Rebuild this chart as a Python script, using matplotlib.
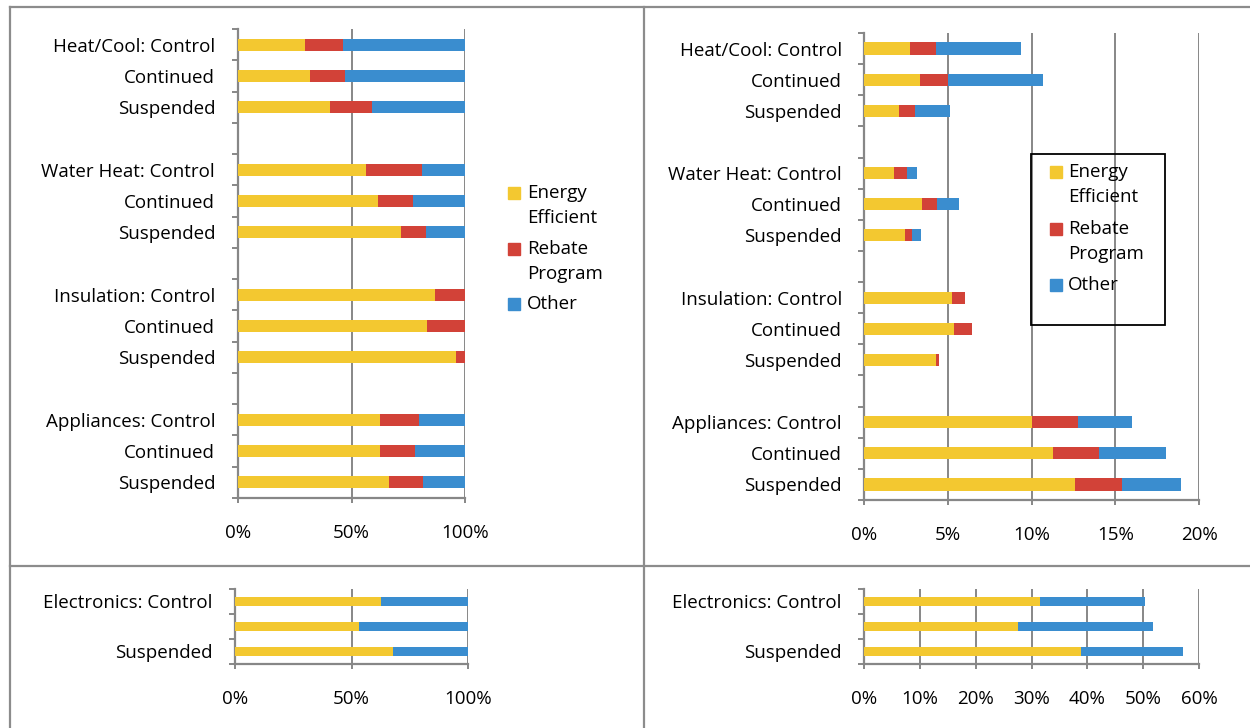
import numpy as np
import matplotlib
matplotlib.use("Agg")
import matplotlib.pyplot as plt
from matplotlib.patches import Rectangle
from matplotlib.lines import Line2D
from matplotlib.ticker import FuncFormatter, FixedLocator

# ---- data (share of households, %) ----
groups = ["Heat/Cool", "Water Heat", "Insulation", "Appliances"]
conditions = ["Control", "Continued", "Suspended"]

energy_eff = [2.75, 3.37, 2.09, 1.79, 3.49, 2.46, 5.24, 5.36, 4.28, 10.00, 11.27, 12.57]
rebate_prog = [1.57, 1.67, 0.96, 0.78, 0.87, 0.38, 0.79, 1.07, 0.18, 2.77, 2.77, 2.84]
other = [5.04, 5.65, 2.11, 0.60, 1.30, 0.59, 0.00, 0.00, 0.00, 3.24, 3.96, 3.49]

elec_labels = ["Electronics: Control", "", "Suspended"]
elec_energy = [31.5, 27.6, 38.8]
elec_other = [18.8, 24.2, 18.4]

series_names = ["Energy\nEfficient", "Rebate\nProgram", "Other"]
colors = ["#F3C830", "#D24238", "#3A8DCF"]

FONT = ["Open Sans", "DejaVu Sans"]
plt.rcParams["font.family"] = FONT
FS = 13.5

W, H = 1250, 728
fig = plt.figure(figsize=(W / 100, H / 100), dpi=100)
fig.patch.set_facecolor("white")
GRID = "#878787"
PX = 72 / 100  # points per pixel


def rect(x0, y0, x1, y1):
    return [x0 / W, 1 - y1 / H, (x1 - x0) / W, (y1 - y0) / H]


def build_slots():
    """Category labels top-to-bottom, with empty slots between groups."""
    labels, idx = [], []
    k = 0
    for g_i, g in enumerate(groups):
        for c_i, c in enumerate(conditions):
            labels.append(f"{g}: {c}" if c_i == 0 else c)
            idx.append(k)
            k += 1
        if g_i < len(groups) - 1:
            labels.append("")
            k += 1
    return labels, idx


def style_axis(ax, n_slots, labels, xticks, xfmt, ypad, fs=FS):
    ax.set_ylim(n_slots - 0.5, -0.5)
    ax.set_yticks(np.arange(n_slots))
    ax.set_yticklabels(labels, fontsize=fs)
    ax.tick_params(axis="y", which="major", length=0, pad=ypad)
    ax.yaxis.set_minor_locator(FixedLocator(np.arange(n_slots + 1) - 0.5))
    ax.tick_params(axis="y", which="minor", length=6 * PX, width=1.4, color=GRID)
    ax.set_xticks(xticks)
    ax.xaxis.set_major_formatter(FuncFormatter(xfmt))
    ax.tick_params(axis="x", length=5 * PX, width=1.4, color=GRID, pad=15, labelsize=fs)
    ax.set_xlim(xticks[0], xticks[-1])
    ax.grid(axis="x", color=GRID, linewidth=1.4)
    ax.set_axisbelow(True)
    for s in ("top", "right"):
        ax.spines[s].set_visible(False)
    for s in ("left", "bottom"):
        ax.spines[s].set_color(GRID)
        ax.spines[s].set_linewidth(1.6)


def stacked(ax, ypos, parts, h):
    left = np.zeros(len(ypos))
    for vals, col in zip(parts, colors):
        vals = np.asarray(vals, dtype=float)
        ax.barh(ypos, vals, left=left, height=h, color=col, edgecolor="none", zorder=3)
        left += vals


slot_labels, slot_idx = build_slots()
n = len(slot_labels)
parts = [np.array(energy_eff), np.array(rebate_prog), np.array(other)]
totals = parts[0] + parts[1] + parts[2]

# ---- top left: 100% stacked ----
ax1 = fig.add_axes(rect(238, 29, 465, 498))
stacked(ax1, slot_idx, [p / totals * 100 for p in parts], 0.39)
style_axis(ax1, n, slot_labels, [0, 50, 100], lambda v, _: f"{v:.0f}%", 16.5)

# ---- top right: absolute shares ----
ax2 = fig.add_axes(rect(864, 33, 1199, 500))
stacked(ax2, slot_idx, parts, 0.39)
style_axis(ax2, n, slot_labels, [0, 5, 10, 15, 20], lambda v, _: f"{v:.0f}%", 16)

# ---- bottom: electronics ----
e_parts = [np.array(elec_energy), np.zeros(3), np.array(elec_other)]
e_tot = e_parts[0] + e_parts[2]
ax3 = fig.add_axes(rect(235, 589, 468, 664))
stacked(ax3, np.arange(3), [p / e_tot * 100 for p in e_parts], 0.37)
style_axis(ax3, 3, elec_labels, [0, 50, 100], lambda v, _: f"{v:.0f}%", 16)

ax4 = fig.add_axes(rect(864, 589, 1199, 664))
stacked(ax4, np.arange(3), e_parts, 0.37)
style_axis(ax4, 3, elec_labels, [0, 10, 20, 30, 40, 50, 60], lambda v, _: f"{v:.0f}%", 16)


# ---- legends ----
def key(x_sq, x_txt, y_rows, sq=11.5):
    for (y, name), col in zip(zip(y_rows, series_names), colors):
        fig.patches.append(Rectangle((x_sq / W, 1 - (y + sq / 2) / H), sq / W, sq / H,
                                     transform=fig.transFigure, color=col, figure=fig))
        lines = name.split("\n")
        for j, ln in enumerate(lines):
            fig.text(x_txt / W, 1 - (y + j * 25) / H, ln, fontsize=FS,
                     va="center", ha="left")


key(508, 527, [193, 249, 304])
fig.patches.append(Rectangle((1031 / W, 1 - 325 / H), 134 / W, 171 / H,
                             transform=fig.transFigure, fill=False,
                             edgecolor="black", linewidth=1.3, figure=fig))
key(1050, 1068, [172, 229, 285])

# ---- panel borders ----
def hline(y, x0, x1):
    fig.lines.append(Line2D([x0 / W, x1 / W], [1 - y / H, 1 - y / H],
                            transform=fig.transFigure, color="#8C8C8C", linewidth=1.6))


def vline(x, y0, y1):
    fig.lines.append(Line2D([x / W, x / W], [1 - y0 / H, 1 - y1 / H],
                            transform=fig.transFigure, color="#8C8C8C", linewidth=1.6))


hline(6.5, 9.5, 1250)
hline(566, 9.5, 1250)
vline(9.5, 6.5, 728)
vline(643.5, 6.5, 728)

fig.savefig("out.png", dpi=100, facecolor="white")
